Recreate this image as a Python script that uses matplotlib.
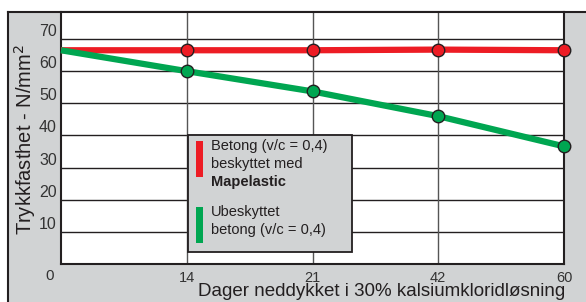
import matplotlib
matplotlib.use('Agg')

import numpy as np
import matplotlib.pyplot as plt
from matplotlib.patches import Rectangle

# data
days = ['0', '14', '21', '42', '60']
beskyttet = [66.5, 66.5, 66.5, 66.7, 66.5]
ubeskyttet = [66.5, 60.0, 53.7, 46.0, 36.6]
yticks = [10, 20, 30, 40, 50, 60, 70]

RED = '#ed1c24'
GREEN = '#00a651'
GRAY = '#d1d3d4'
DARK = '#231f20'

plt.rcParams['font.family'] = ['Liberation Sans', 'DejaVu Sans']

W, H = 586, 302
fig = plt.figure(figsize=(W / 100, H / 100), dpi=100)
fig.patch.set_facecolor('white')

# gray panel with a dark border on the top and left
fig.patches.append(Rectangle((8 / W, 0), 1, 1 - 12 / H, transform=fig.transFigure,
                             facecolor=GRAY, edgecolor='none', zorder=-10))
fig.add_artist(plt.Line2D([8 / W, 1], [1 - 12 / H, 1 - 12 / H], transform=fig.transFigure,
                          color=DARK, lw=1.5, zorder=-5))
fig.add_artist(plt.Line2D([8 / W, 8 / W], [0, 1 - 12 / H], transform=fig.transFigure,
                          color=DARK, lw=1.5, zorder=-5))

ax = fig.add_axes([61 / W, 1 - 264 / H, (564 - 61) / W, (264 - 12) / H])
ax.set_facecolor('white')
x = np.arange(len(days))
ax.set_xlim(0, len(days) - 1)
ax.set_ylim(0, 78.4)

for yv in yticks:
    ax.axhline(yv, color=DARK, lw=1.0, zorder=1)
for xv in x[1:-1]:
    ax.axvline(xv, color='#555555', lw=1.0, zorder=1)

ax.plot(x, beskyttet, color=RED, lw=4.5, zorder=3, solid_capstyle='butt',
        marker='o', ms=9, mfc=RED, mec=DARK, mew=1.0, clip_on=False,
        markevery=[1, 2, 3, 4])
ax.plot(x, ubeskyttet, color=GREEN, lw=4.5, zorder=3, solid_capstyle='butt',
        marker='o', ms=9, mfc=GREEN, mec=DARK, mew=1.0, clip_on=False,
        markevery=[1, 2, 3, 4])

for sp in ax.spines.values():
    sp.set_color(DARK)
    sp.set_linewidth(1.5)

ax.set_yticks(yticks)
ax.set_yticklabels([str(v) for v in yticks], fontsize=11.5, color='#333333',
                   va='bottom')
ax.set_xticks(x[1:])
ax.set_xticklabels(days[1:], fontsize=10.5, color='#333333')
ax.tick_params(axis='y', length=0, pad=3)
ax.tick_params(axis='x', length=0, pad=5)
fig.text(50 / W, 1 - 276 / H, days[0], fontsize=11, color='#333333',
         ha='center', va='center')

fig.text(25 / W, 1 - 140 / H, 'Trykkfasthet - N/mm$^2$', fontsize=14.5, color=DARK,
         rotation=90, ha='center', va='center')
fig.text(382 / W, 1 - 292 / H, 'Dager neddykket i 30% kalsiumkloridløsning',
         fontsize=13.5, color=DARK, ha='center', va='center')

# legend box
fig.patches.append(Rectangle((188 / W, 1 - 252 / H), (352 - 188) / W, (252 - 135) / H,
                             transform=fig.transFigure, facecolor=GRAY,
                             edgecolor=DARK, lw=1.3, zorder=5))
fig.patches.append(Rectangle((196 / W, 1 - 177 / H), 7 / W, 36 / H,
                             transform=fig.transFigure, facecolor=RED,
                             edgecolor='none', zorder=6))
fig.patches.append(Rectangle((196 / W, 1 - 243 / H), 7 / W, 36 / H,
                             transform=fig.transFigure, facecolor=GREEN,
                             edgecolor='none', zorder=6))
fs = 10.5
for ypx, txt, wt in [(146, 'Betong (v/c = 0,4)', 'normal'),
                     (164, 'beskyttet med', 'normal'),
                     (182, 'Mapelastic', 'bold'),
                     (212, 'Ubeskyttet', 'normal'),
                     (230, 'betong (v/c = 0,4)', 'normal')]:
    fig.text(211 / W, 1 - ypx / H, txt, fontsize=fs, color=DARK,
             fontweight=wt, va='center', ha='left', zorder=7)

fig.savefig('out.png', dpi=100, facecolor=fig.get_facecolor())
